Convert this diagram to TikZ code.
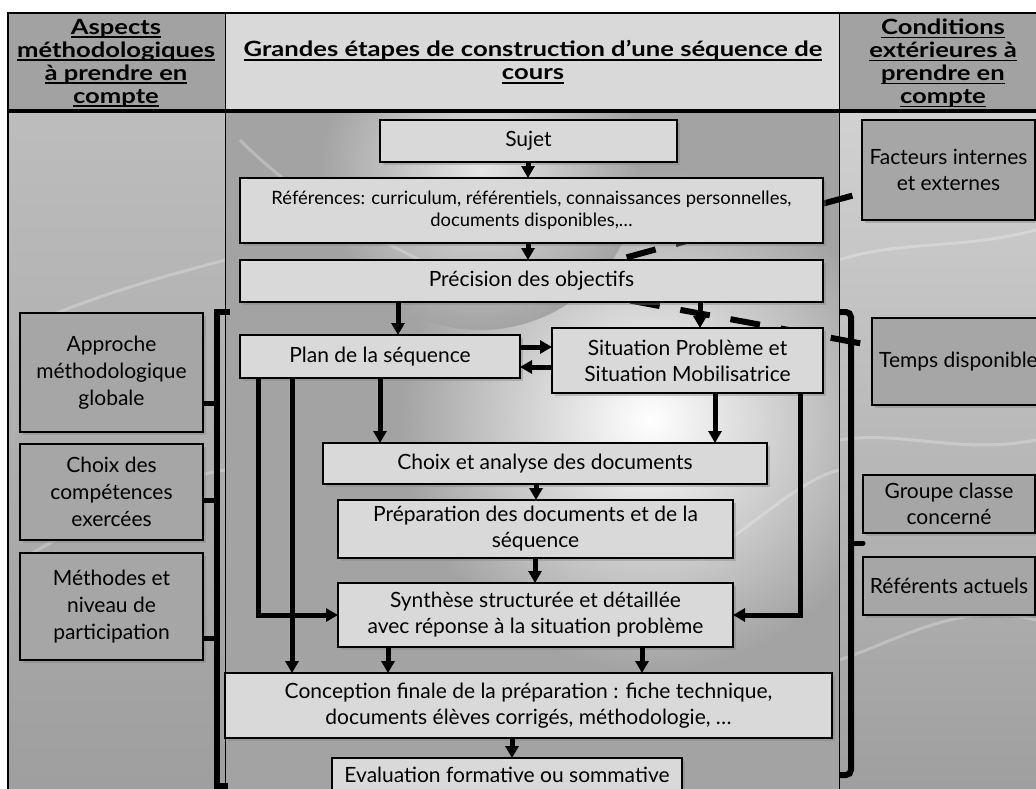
\documentclass[tikz,border=0pt]{standalone}
\usepackage{fontspec}
\setmainfont{Lato}
\usetikzlibrary{arrows.meta,shadows}

\definecolor{boxlight}{HTML}{D9D9D9}
\definecolor{boxdark}{HTML}{A6A6A6}
\definecolor{headdark}{HTML}{A2A2A2}

% underlined header line: widened bold text with a rule below its baseline
\newcommand{\hdul}[1]{\leavevmode\setbox0\hbox{\scalebox{1.22}[1]{#1}}\rlap{\copy0}\raisebox{-3.8pt}{\rule{\wd0}{1.6pt}}}

\begin{document}
\begin{tikzpicture}[x=1pt,y=-1pt,
  every node/.style={inner sep=0pt, outer sep=0pt},
  lbox/.style={draw=black, line width=2.5pt, fill=boxlight, align=center,
    font=\fontsize{21}{26}\selectfont,
    drop shadow={shadow xshift=2.5pt, shadow yshift=-2.5pt, opacity=.4}},
  dbox/.style={lbox, fill=boxdark},
  headtext/.style={align=center, font=\fontsize{21}{23}\selectfont\bfseries},
  conn/.style={line width=5pt, line join=miter, -{Triangle[length=12pt,width=13pt]}},
  dashline/.style={line width=6pt, dash pattern=on 30pt off 21pt},
  bracket/.style={line width=6pt}
]
\useasboundingbox (0,0) rectangle (1036,788);
\clip (0,0) rectangle (1036,788);
\fill[white] (0,0) rectangle (1036,788);

% ---- column backgrounds ----
\shade[top color=black!26, bottom color=black!38] (8,111) rectangle (225,800);
\begin{scope}
  \clip (225,111) rectangle (839,800);
  \fill[black!36] (225,111) rectangle (839,800);
  \shade[inner color=white, outer color=black!36] (650,420) circle (250);
  \shade[inner color=black!10, outer color=black!36] (480,170) circle (160);
\end{scope}
\shade[top color=black!18, bottom color=black!38] (839,111) rectangle (1045,800);

% faint streaks of the textured background
\begin{scope}[white, opacity=.25, line width=3pt]
  \draw (20,330) .. controls (80,300) and (150,280) .. (225,260);
  \draw (20,560) .. controls (90,520) and (160,480) .. (225,470);
  \draw (839,260) .. controls (900,240) and (960,250) .. (1036,230);
  \draw (839,440) .. controls (900,430) and (960,455) .. (1036,440);
  \draw (839,660) .. controls (900,640) and (960,600) .. (1036,620);
  \draw (240,140) .. controls (300,200) and (360,230) .. (420,260);
  \draw (700,560) .. controls (760,520) and (800,480) .. (839,470);
\end{scope}

% ---- header row ----
\fill[headdark] (8,13) rectangle (225,111);
\fill[boxlight] (225,13) rectangle (839,111);
\fill[headdark] (839,13) rectangle (1045,111);
\draw[line width=1.5pt] (1045,13) -- (8,13) -- (8,800);
\draw[line width=1pt] (225,13) -- (225,800);
\draw[line width=1pt] (839,13) -- (839,800);
\draw[line width=3.5pt] (8,111) -- (1045,111);

\node[headtext] (hleft) at (116,63)
  {\hdul{Aspects}\\\hdul{méthodologiques}\\\hdul{à prendre en}\\\hdul{compte}};
\node[headtext] (hmid) at (533,62)
  {\hdul{Grandes étapes de construction d’une séquence de}\\\hdul{cours}};
\node[headtext] (hright) at (943,63)
  {\hdul{Conditions}\\\hdul{extérieures à}\\\hdul{prendre en}\\\hdul{compte}};

% ---- dashed links from the outside conditions ----
\draw[dashline, dash phase=41pt] (862,193) -- (617,260);
\draw[dashline, dash phase=39pt] (872,345.5) -- (630,300.5);

% ---- steps of the sequence ----
\node[lbox, minimum width=297pt, minimum height=42pt] (sujet) at (528.5,141) {Sujet};
\node[lbox, minimum width=583pt, minimum height=65pt, font=\fontsize{18.4}{22}\selectfont] (refs) at (531.5,210.5)
  {Références: curriculum, référentiels, connaissances personnelles,\\documents disponibles,…};
\node[lbox, minimum width=583pt, minimum height=42pt] (prec) at (531.5,281) {Précision des objectifs};
\node[lbox, minimum width=280pt, minimum height=43pt] (plan) at (380,356.5) {Plan de la séquence};
\node[lbox, minimum width=271pt, minimum height=65pt] (sit) at (687.5,360.5)
  {Situation Problème et\\Situation Mobilisatrice};
\node[lbox, minimum width=444pt, minimum height=41pt] (choix) at (545,463.5) {Choix et analyse des documents};
\node[lbox, minimum width=395pt, minimum height=58pt] (prep) at (535.5,529)
  {Préparation des documents et de la\\séquence};
\node[lbox, minimum width=395pt, minimum height=64pt] (synth) at (535.5,615)
  {Synthèse structurée et détaillée\\avec réponse à la situation problème};
\node[lbox, minimum width=607pt, minimum height=65pt] (concep) at (528.5,705.5)
  {Conception finale de la préparation : fiche technique,\\documents élèves corrigés, méthodologie, …};
\node[lbox, minimum width=350pt, minimum height=34pt] (eval) at (507,775) {Evaluation formative ou sommative};

% ---- methodological aspects ----
\node[dbox, minimum width=183pt, minimum height=119pt, font=\fontsize{21}{27}\selectfont] (approche) at (111.5,372.5)
  {Approche\\méthodologique\\globale};
\node[dbox, minimum width=183pt, minimum height=96pt, font=\fontsize{21}{27}\selectfont] (compet) at (111.5,492)
  {Choix des\\compétences\\exercées};
\node[dbox, minimum width=183pt, minimum height=107pt, font=\fontsize{21}{27}\selectfont] (methodes) at (111.5,606.5)
  {Méthodes et\\niveau de\\participation};

% ---- outside conditions ----
\node[dbox, minimum width=173pt, minimum height=100pt] (facteurs) at (948.5,170)
  {Facteurs internes\\et externes};
\node[dbox, minimum width=173pt, minimum height=87pt] (temps) at (958.5,361.5) {Temps disponible};
\node[dbox, minimum width=172pt, minimum height=58pt] (groupe) at (949,504) {Groupe classe\\concerné};
\node[dbox, minimum width=172pt, minimum height=58pt] (referents) at (949,586) {Référents actuels};

% ---- flow arrows ----
\draw[conn] (sujet.south -| 528,0) -- (refs.north -| 528,0);
\draw[conn] (refs.south -| 528,0) -- (prec.north -| 528,0);
\draw[conn] (prec.south -| 398,0) -- (plan.north -| 398,0);
\draw[conn] (prec.south -| 700,0) -- (sit.north -| 700,0);
\draw[conn] (plan.east |- 0,347) -- (sit.west |- 0,347);
\draw[conn] (sit.west |- 0,367) -- (plan.east |- 0,367);
\draw[conn] (plan.south -| 380,0) -- (choix.north -| 380,0);
\draw[conn] (sit.south -| 715,0) -- (choix.north -| 715,0);
\draw[conn] (choix.south -| 536,0) -- (prep.north -| 536,0);
\draw[conn] (prep.south -| 535,0) -- (synth.north -| 535,0);
\draw[conn] (plan.south -| 258,0) |- (synth.west);
\draw[conn] (plan.south -| 292,0) -- (concep.north -| 292,0);
\draw[conn] (sit.south -| 800,0) |- (synth.east);
\draw[conn] (synth.south -| 388,0) -- (concep.north -| 388,0);
\draw[conn] (synth.south -| 642,0) -- (concep.north -| 642,0);
\draw[conn] (concep.south -| 512,0) -- (eval.north -| 512,0);

% ---- left bracket gathering the methodological aspects ----
\coordinate (lbtop) at (217,312);
\coordinate (lbbot) at (217,786);
\draw[bracket] (230,312) -- (lbtop) -- (lbbot) -- (228,786);
\draw[line width=5pt] (approche.east |- 0,403) -- (lbtop |- 0,403);
\draw[line width=5pt] (compet.east |- 0,500) -- (lbtop |- 0,500);
\draw[line width=5pt] (methodes.east |- 0,638) -- (lbtop |- 0,638);

% ---- right brace gathering the outside conditions ----
\coordinate (rbtop) at (851,312);
\coordinate (rbbot) at (851,775);
\draw[bracket, rounded corners=5pt] (840,312) -- (rbtop) -- (rbbot) -- (840,775);
\draw[line width=5pt, line cap=round] (rbtop |- 0,543) -- (863,543);
\end{tikzpicture}
\end{document}
